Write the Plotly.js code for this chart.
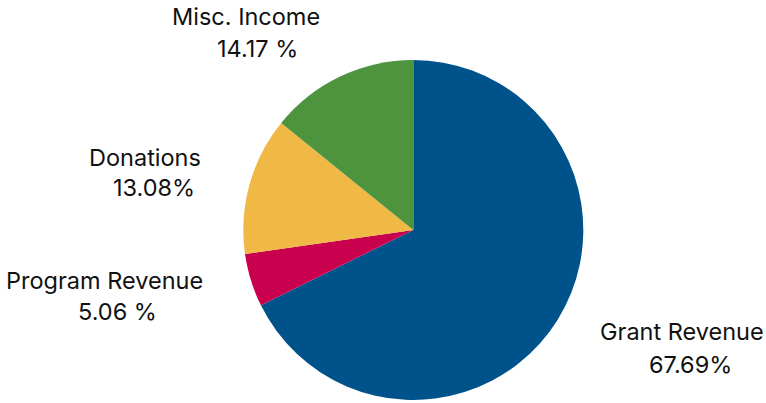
<!DOCTYPE html>
<html><head><meta charset="utf-8">
<script src="https://cdn.plot.ly/plotly-3.0.1.min.js"></script>
<style>html,body{margin:0;padding:0;background:#fff;}</style>
</head><body>
<div id="chart" style="width:766px;height:403px;"></div>
<script>
const categories = ["Grant Revenue", "Program Revenue", "Donations", "Misc. Income"];
const values = [67.69, 5.06, 13.08, 14.17];
const valueLabels = ["67.69%", "5.06 %", "13.08%", "14.17 %"];
const colors = ["#00538A", "#C8004E", "#F0B845", "#4E943F"];
const namePos = [[682, 331], [104, 280], [145, 157], [246, 17]];
const valuePos = [[690, 364], [117, 311], [154, 188], [257, 48]];

const W = 766, H = 403;
const cx = 413.3, cy = 230, r = 170;

function ann(pos, text) {
  return {
    x: pos[0] / W, y: 1 - pos[1] / H,
    xref: 'paper', yref: 'paper', xanchor: 'center', yanchor: 'middle',
    text: text, showarrow: false, align: 'center',
    font: {family: 'Inter, Lato, sans-serif', size: 23.5, color: '#111'}
  };
}
const annotations = [];
categories.forEach((c, i) => {
  annotations.push(ann(namePos[i], c));
  annotations.push(ann(valuePos[i], valueLabels[i]));
});

Plotly.newPlot('chart', [{
  type: 'pie', labels: categories, values: values, sort: false,
  direction: 'clockwise', rotation: 0,
  marker: {colors: colors, line: {width: 0}},
  textinfo: 'none', hoverinfo: 'label+percent',
  domain: {x: [(cx - r) / W, (cx + r) / W], y: [1 - (cy + r) / H, 1 - (cy - r) / H]}
}], {
  width: W, height: H, margin: {l: 0, r: 0, t: 0, b: 0},
  showlegend: false, paper_bgcolor: '#fff', annotations: annotations
}, {displayModeBar: false, staticPlot: true});
</script>
</body></html>
